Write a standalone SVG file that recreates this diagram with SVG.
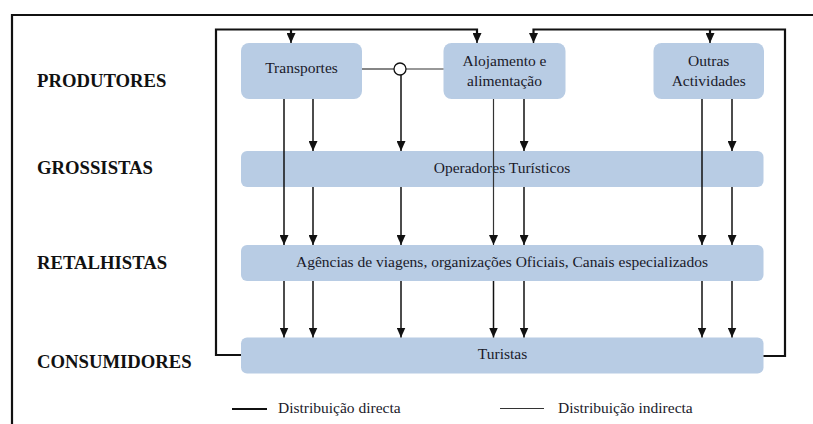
<svg xmlns="http://www.w3.org/2000/svg" width="813" height="424" viewBox="0 0 813 424">
<style>
.box{fill:#b8cce4;}
.lbl{font-family:"Liberation Serif","Times New Roman",serif;font-weight:bold;font-size:18.7px;fill:#111;}
.t{font-family:"Liberation Serif","Times New Roman",serif;font-size:15.5px;fill:#1a1a2a;text-anchor:middle;}
.lg{font-family:"Liberation Serif","Times New Roman",serif;font-size:15.5px;fill:#1a1a2a;}
.c{fill:none;stroke:#111;stroke-width:1.5;}
.loop{fill:none;stroke:#111;stroke-width:2.2;}
.thin{fill:none;stroke:#333;stroke-width:1.2;}
</style>
<defs>
<marker id="ah" markerWidth="10" markerHeight="9" refX="10" refY="4.5" orient="auto" markerUnits="userSpaceOnUse">
<path d="M0,0 L10,4.5 L0,9 z" fill="#111"/>
</marker>
</defs>
<rect width="813" height="424" fill="#fff"/>
<path d="M12,424 V15 H813" fill="none" stroke="#111" stroke-width="2.2"/>
<text class="lbl" x="37" y="87">PRODUTORES</text>
<text class="lbl" x="37" y="174">GROSSISTAS</text>
<text class="lbl" x="37" y="269">RETALHISTAS</text>
<text class="lbl" x="37" y="368">CONSUMIDORES</text>
<g id="transportes"><rect class="box" x="241" y="43" width="121" height="56" rx="8"/><text class="t" x="301.5" y="73">Transportes</text></g>
<g id="alojamento"><rect class="box" x="443.5" y="43" width="122" height="56" rx="8"/><text class="t" x="504.5" y="66">Alojamento e</text><text class="t" x="504.5" y="86">alimentação</text></g>
<g id="outras"><rect class="box" x="653.5" y="43" width="110.5" height="56" rx="8"/><text class="t" x="708.7" y="66">Outras</text><text class="t" x="708.7" y="86">Actividades</text></g>
<g id="operadores"><rect class="box" x="241" y="151" width="522.5" height="36" rx="6"/><text class="t" x="502" y="173">Operadores Turísticos</text></g>
<g id="agencias"><rect class="box" x="241" y="245" width="522.5" height="36" rx="6"/><text class="t" x="502" y="267">Agências de viagens, organizações Oficiais, Canais especializados</text></g>
<g id="turistas"><rect class="box" x="241" y="337.5" width="522.5" height="36" rx="6"/><text class="t" x="502.5" y="359">Turistas</text></g>
<g id="connectors">
<path class="loop" d="M241,355 H216 V29.5 H477 V40" />
<path class="loop" d="M291,29.5 V40"/>
<line x1="291" y1="38" x2="291" y2="43" class="c" marker-end="url(#ah)"/>
<line x1="477" y1="38" x2="477" y2="43" class="c" marker-end="url(#ah)"/>
<path class="loop" d="M763.5,356 H785 V29.5 H533.5 V40"/>
<path class="loop" d="M710,29.5 V40"/>
<line x1="533.5" y1="38" x2="533.5" y2="43" class="c" marker-end="url(#ah)"/>
<line x1="710" y1="38" x2="710" y2="43" class="c" marker-end="url(#ah)"/>
<line class="thin" x1="362" y1="69" x2="394" y2="69"/>
<line class="thin" x1="406" y1="69" x2="443.5" y2="69"/>
<circle cx="400" cy="69" r="6" fill="#fff" stroke="#111" stroke-width="1.3"/>
<line class="c" x1="401" y1="75" x2="401" y2="151" marker-end="url(#ah)"/>
<line class="c" x1="284" y1="99" x2="284" y2="245" marker-end="url(#ah)"/>
<line class="c" x1="313" y1="99" x2="313" y2="151" marker-end="url(#ah)"/>
<line class="thin" x1="493.5" y1="99" x2="493.5" y2="245" marker-end="url(#ah)"/>
<line class="c" x1="524" y1="99" x2="524" y2="151" marker-end="url(#ah)"/>
<line class="c" x1="702" y1="99" x2="702" y2="245" marker-end="url(#ah)"/>
<line class="c" x1="732" y1="99" x2="732" y2="151" marker-end="url(#ah)"/>
<line class="c" x1="313" y1="187" x2="313" y2="245" marker-end="url(#ah)"/>
<line class="c" x1="401" y1="187" x2="401" y2="245" marker-end="url(#ah)"/>
<line class="c" x1="524" y1="187" x2="524" y2="245" marker-end="url(#ah)"/>
<line class="c" x1="732" y1="187" x2="732" y2="245" marker-end="url(#ah)"/>
<line class="c" x1="284" y1="281" x2="284" y2="337.5" marker-end="url(#ah)"/>
<line class="c" x1="313" y1="281" x2="313" y2="337.5" marker-end="url(#ah)"/>
<line class="c" x1="401" y1="281" x2="401" y2="337.5" marker-end="url(#ah)"/>
<line class="c" x1="493.5" y1="281" x2="493.5" y2="337.5" marker-end="url(#ah)"/>
<line class="c" x1="524" y1="281" x2="524" y2="337.5" marker-end="url(#ah)"/>
<line class="c" x1="702" y1="281" x2="702" y2="337.5" marker-end="url(#ah)"/>
<line class="c" x1="732" y1="281" x2="732" y2="337.5" marker-end="url(#ah)"/>
</g>
<g id="legend">
<line x1="232" y1="409" x2="267" y2="409" stroke="#111" stroke-width="2.2"/>
<text class="lg" x="278" y="413">Distribuição directa</text>
<line x1="500" y1="408.5" x2="544" y2="408.5" stroke="#333" stroke-width="1.2"/>
<text class="lg" x="558" y="413">Distribuição indirecta</text>
</g>
</svg>
